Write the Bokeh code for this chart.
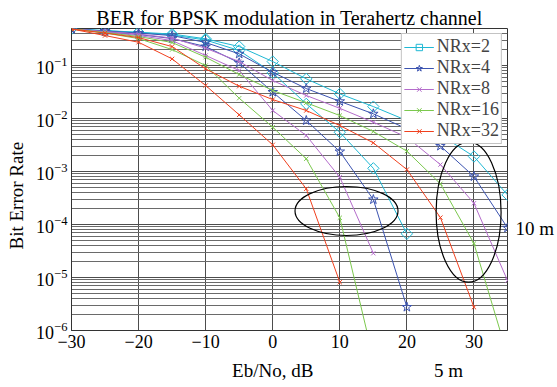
import math
from bokeh.plotting import figure
from bokeh.models import Range1d, Legend, LegendItem, FixedTicker, LinearAxis, LogAxis
from bokeh.embed import file_html
from bokeh.resources import INLINE

# ---------------- data ----------------
ebno_db = [-30, -25, -20, -15, -10, -5, 0, 5, 10, 15, 20, 25, 30, 35]

# 10 m link distance
ber_nrx2_10m = [0.49, 0.457, 0.425, 0.393, 0.319, 0.228, 0.119, 0.0561, 0.0292, 0.0168, 0.00917, 0.00489, 0.00192, 0.000363]
ber_nrx4_10m = [0.49, 0.448, 0.41, 0.368, 0.272, 0.166, 0.0748, 0.0368, 0.0211, 0.01227, 0.0064, 0.00303, 0.000805, 8.67e-5]
ber_nrx8_10m = [0.49, 0.438, 0.393, 0.330, 0.212, 0.119, 0.0521, 0.0272, 0.0156, 0.00851, 0.00444, 0.00135, 0.000252, 8.77e-6]
ber_nrx16_10m = [0.49, 0.42, 0.352, 0.272, 0.1435, 0.0676, 0.0338, 0.0198, 0.0114, 0.00569, 0.00242, 0.000586, 4.38e-5, 3.4e-7]
ber_nrx32_10m = [0.49, 0.41, 0.337, 0.228, 0.0867, 0.0407, 0.0228, 0.01416, 0.00738, 0.00348, 0.00109, 0.000135, 2.75e-6]

# 5 m link distance
ber_nrx2_5m = [0.49, 0.454, 0.42, 0.376, 0.303, 0.192, 0.0728, 0.0189, 0.00551, 0.00115, 6.68e-5]
ber_nrx4_5m = [0.49, 0.438, 0.385, 0.323, 0.228, 0.1125, 0.0316, 0.00917, 0.00238, 0.000296, 2.77e-6]
ber_nrx8_5m = [0.49, 0.429, 0.368, 0.296, 0.155, 0.0805, 0.01416, 0.00478, 0.00078, 2.87e-5]
ber_nrx16_5m = [0.49, 0.41, 0.323, 0.2, 0.1, 0.0242, 0.00686, 0.00174, 0.000134, 2.96e-7]
ber_nrx32_5m = [0.49, 0.368, 0.275, 0.1336, 0.042, 0.01175, 0.00319, 0.000472, 8.15e-6]

series_labels = ["NRx=2", "NRx=4", "NRx=8", "NRx=16", "NRx=32"]

x_ticks = [-30, -20, -10, 0, 10, 20, 30]
y_ticks = [1e-6, 1e-5, 1e-4, 1e-3, 1e-2, 1e-1]
y_minor = [m * 10.0 ** k for k in range(-6, 0) for m in range(2, 10) if m * 10.0 ** k <= 0.5]

# text anchors (data positions of the free texts)
xlabel_at = {0: "Eb/No, dB", 26.2: "5 m"}
ylabel_at = {3.5e-4: "Bit Error Rate"}
right_tag_at = {8.4e-5: "10 m"}

# annotation ellipses (5 m group, 10 m group)
ell_x = [11.0, 29.2]
ell_y = [1.8e-4, 1.71e-4]
ell_w = [103, 65]
ell_h = [49, 140]

# ---------------- styling ----------------
colors = ["#1fb8d4", "#3b53b0", "#b46ccb", "#7cc84e", "#f0401e"]
markers = ["square", "star", "x", "x", "x"]
msizes = [8, 10, 6, 6, 6]
angles = [math.pi / 4, 0, 0, 0, 0]
FONT = "Liberation Serif"

p = figure(width=557, height=387, y_axis_type="log",
           x_range=Range1d(-30, 35), y_range=Range1d(1e-6, 0.5),
           output_backend="svg", toolbar_location=None,
           min_border_left=71, min_border_right=48,
           min_border_top=28, min_border_bottom=57,
           background_fill_color="white", border_fill_color="white")

p.title.text = "BER for BPSK modulation in Terahertz channel"
p.title.align = "center"
p.title.text_font = FONT
p.title.text_font_size = "20px"
p.title.text_font_style = "normal"
p.title.text_color = "black"
p.title.offset = 0
p.title.standoff = 0

p.xaxis.ticker = FixedTicker(ticks=x_ticks)
p.yaxis.ticker = FixedTicker(ticks=y_ticks, minor_ticks=y_minor)


def style_axis(ax, size="18px"):
    ax.major_label_text_font = FONT
    ax.major_label_text_font_size = size
    ax.major_label_text_color = "black"
    ax.major_tick_line_color = None
    ax.minor_tick_line_color = None
    ax.major_tick_out = 0
    ax.major_tick_in = 0
    ax.minor_tick_out = 0
    ax.minor_tick_in = 0


for ax in (p.xaxis, p.yaxis):
    style_axis(ax)
    ax.axis_line_color = "#333333"
p.xaxis.major_label_standoff = 4
p.yaxis.major_label_standoff = 4

# extra text-only axes: x-axis title + "5 m", y-axis title, "10 m"
xt = LinearAxis(ticker=FixedTicker(ticks=list(xlabel_at)), major_label_overrides=xlabel_at,
                axis_line_color=None, major_label_standoff=9)
style_axis(xt, "19px")
p.add_layout(xt, "below")

yt = LogAxis(ticker=FixedTicker(ticks=list(ylabel_at)), major_label_overrides=ylabel_at,
             axis_line_color=None, major_label_standoff=6, major_label_orientation="parallel")
style_axis(yt, "19px")
p.add_layout(yt, "left")

rt = LogAxis(ticker=FixedTicker(ticks=list(right_tag_at)), major_label_overrides=right_tag_at,
             axis_line_color=None, major_label_standoff=8)
style_axis(rt, "19px")
p.add_layout(rt, "right")

p.xgrid.grid_line_color = "#4d4d4d"
p.xgrid.grid_line_width = 1
p.ygrid.grid_line_color = "#4d4d4d"
p.ygrid.minor_grid_line_color = "#6a6a6a"
p.ygrid.grid_line_width = 1
p.outline_line_color = "#333333"

ten_m = [ber_nrx2_10m, ber_nrx4_10m, ber_nrx8_10m, ber_nrx16_10m, ber_nrx32_10m]
five_m = [ber_nrx2_5m, ber_nrx4_5m, ber_nrx8_5m, ber_nrx16_5m, ber_nrx32_5m]

items = []
for i in range(5):
    c = colors[i]
    rends = []
    for ys in (ten_m[i], five_m[i]):
        xs = ebno_db[:len(ys)]
        ln = p.line(xs, ys, line_color=c, line_width=1)
        sc = p.scatter(xs, ys, marker=markers[i], size=msizes[i], angle=angles[i],
                       line_color=c, fill_color=None, line_width=1)
        if not rends:
            rends = [ln, sc]
    items.append(LegendItem(label=series_labels[i], renderers=rends))

p.ellipse(x=ell_x, y=ell_y, width=ell_w, height=ell_h,
          width_units="screen", height_units="screen",
          fill_color=None, line_color="black", line_width=1.2)

legend = Legend(items=items, location="top_right", margin=5, padding=2,
                spacing=0, glyph_width=30, glyph_height=16, label_height=16,
                label_standoff=3, label_text_font=FONT, label_text_font_size="18px",
                border_line_color="#888888", background_fill_alpha=1)
p.add_layout(legend)

open("out.html", "w").write(file_html(p, INLINE))
